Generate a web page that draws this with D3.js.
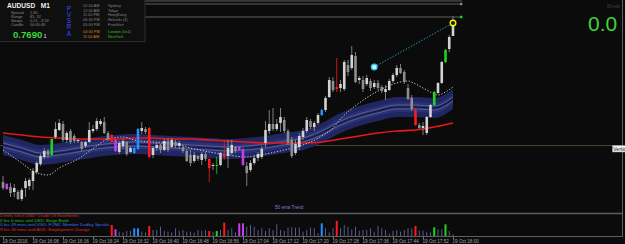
<!DOCTYPE html>
<html>
<head>
<meta charset="utf-8">
<script src="https://cdn.jsdelivr.net/npm/d3@7"></script>
<style>
html, body { margin: 0; padding: 0; background: #0b0b0b; overflow: hidden; }
svg { display: block; }
text { font-family: "Liberation Sans", Arial, sans-serif; }
</style>
</head>
<body>
<div id="chart"></div>
<script>
// AUDUSD M1, 19 Oct 2016, one bar per minute from 16:00
const startTime = new Date(2016, 9, 19, 16, 0);

const open = [0.76739,0.76737,0.76734,0.76729,0.76729,0.76722,0.76733,0.76735,0.76740,0.76749,
  0.76757,0.76764,0.76770,0.76766,0.76784,0.76791,0.76797,0.76781,0.76790,0.76785,
  0.76780,0.76779,0.76775,0.76779,0.76790,0.76792,0.76797,0.76799,0.76788,0.76786,
  0.76781,0.76769,0.76775,0.76779,0.76769,0.76768,0.76772,0.76790,0.76792,0.76793,
  0.76766,0.76773,0.76776,0.76771,0.76780,0.76774,0.76779,0.76775,0.76774,0.76770,
  0.76766,0.76760,0.76765,0.76761,0.76767,0.76762,0.76755,0.76755,0.76756,0.76766,
  0.76765,0.76768,0.76774,0.76774,0.76772,0.76755,0.76751,0.76758,0.76763,0.76764,
  0.76778,0.76790,0.76797,0.76792,0.76798,0.76801,0.76790,0.76781,0.76768,0.76774,
  0.76784,0.76790,0.76800,0.76794,0.76798,0.76806,0.76811,0.76824,0.76840,0.76834,
  0.76833,0.76832,0.76856,0.76853,0.76865,0.76841,0.76841,0.76837,0.76840,0.76834,
  0.76838,0.76834,0.76829,0.76831,0.76840,0.76846,0.76853,0.76849,0.76833,0.76823,
  0.76811,0.76796,0.76793,0.76788,0.76804,0.76816,0.76828,0.76838,0.76859,0.76872,
  0.76885];
const high = [0.76745,0.76738,0.76738,0.76737,0.76731,0.76733,0.76743,0.76743,0.76753,0.76760,
  0.76767,0.76773,0.76772,0.76782,0.76799,0.76802,0.76800,0.76790,0.76792,0.76787,
  0.76782,0.76780,0.76780,0.76799,0.76796,0.76803,0.76802,0.76804,0.76790,0.76787,
  0.76782,0.76780,0.76782,0.76780,0.76775,0.76774,0.76793,0.76799,0.76794,0.76794,
  0.76775,0.76778,0.76777,0.76782,0.76783,0.76783,0.76781,0.76780,0.76775,0.76772,
  0.76771,0.76769,0.76766,0.76769,0.76769,0.76763,0.76758,0.76764,0.76769,0.76781,
  0.76781,0.76781,0.76775,0.76775,0.76773,0.76759,0.76761,0.76766,0.76769,0.76775,
  0.76800,0.76811,0.76813,0.76802,0.76813,0.76804,0.76792,0.76784,0.76781,0.76788,
  0.76793,0.76804,0.76802,0.76800,0.76808,0.76812,0.76825,0.76844,0.76844,0.76863,
  0.76841,0.76861,0.76861,0.76875,0.76869,0.76845,0.76845,0.76846,0.76842,0.76841,
  0.76841,0.76836,0.76836,0.76842,0.76848,0.76856,0.76857,0.76851,0.76837,0.76826,
  0.76813,0.76798,0.76799,0.76805,0.76817,0.76830,0.76839,0.76860,0.76872,0.76886,
  0.76905];
const low = [0.76731,0.76731,0.76724,0.76724,0.76721,0.76720,0.76724,0.76731,0.76731,0.76747,
  0.76755,0.76762,0.76763,0.76765,0.76782,0.76790,0.76779,0.76778,0.76777,0.76778,
  0.76778,0.76770,0.76773,0.76778,0.76788,0.76790,0.76795,0.76787,0.76780,0.76778,
  0.76769,0.76767,0.76772,0.76765,0.76768,0.76767,0.76771,0.76787,0.76787,0.76763,
  0.76763,0.76770,0.76768,0.76770,0.76769,0.76773,0.76773,0.76772,0.76768,0.76759,
  0.76755,0.76758,0.76760,0.76756,0.76760,0.76739,0.76751,0.76747,0.76755,0.76761,
  0.76753,0.76766,0.76768,0.76770,0.76755,0.76735,0.76749,0.76756,0.76760,0.76762,
  0.76774,0.76787,0.76790,0.76790,0.76789,0.76788,0.76776,0.76763,0.76766,0.76771,
  0.76781,0.76788,0.76792,0.76790,0.76796,0.76805,0.76809,0.76823,0.76829,0.76829,
  0.76829,0.76830,0.76845,0.76851,0.76838,0.76837,0.76829,0.76835,0.76830,0.76832,
  0.76831,0.76828,0.76821,0.76830,0.76838,0.76844,0.76847,0.76837,0.76821,0.76810,
  0.76795,0.76792,0.76786,0.76786,0.76803,0.76815,0.76827,0.76837,0.76858,0.76869,
  0.76885];
const close = [0.76733,0.76732,0.76728,0.76733,0.76722,0.76731,0.76740,0.76741,0.76750,0.76758,
  0.76765,0.76770,0.76766,0.76782,0.76792,0.76798,0.76781,0.76788,0.76779,0.76780,
  0.76781,0.76772,0.76779,0.76791,0.76792,0.76800,0.76800,0.76788,0.76782,0.76779,
  0.76770,0.76778,0.76780,0.76767,0.76773,0.76773,0.76792,0.76793,0.76789,0.76764,
  0.76773,0.76776,0.76771,0.76780,0.76771,0.76781,0.76775,0.76778,0.76770,0.76760,
  0.76758,0.76766,0.76762,0.76767,0.76762,0.76753,0.76756,0.76756,0.76768,0.76764,
  0.76773,0.76776,0.76770,0.76771,0.76756,0.76748,0.76758,0.76763,0.76767,0.76772,
  0.76791,0.76797,0.76792,0.76797,0.76804,0.76790,0.76778,0.76765,0.76777,0.76785,
  0.76790,0.76801,0.76794,0.76798,0.76806,0.76811,0.76823,0.76841,0.76831,0.76832,
  0.76837,0.76859,0.76849,0.76866,0.76839,0.76843,0.76832,0.76843,0.76833,0.76838,
  0.76833,0.76830,0.76832,0.76840,0.76846,0.76853,0.76848,0.76839,0.76822,0.76812,
  0.76796,0.76793,0.76795,0.76804,0.76816,0.76829,0.76838,0.76859,0.76871,0.76884,
  0.76901];

// PVSRA coloured bars: R climax bear, G climax bull, B rising bull, M rising bear
const pvsraBars = [[1,'M'],[13,'G'],[29,'R'],[30,'M'],[35,'B'],[36,'B'],[39,'R'],[55,'R'],
  [57,'G'],[59,'R'],[63,'M'],[64,'M'],[85,'B'],[89,'R'],[110,'R'],[115,'G'],[118,'G']];

// tick volume, sub window only shows bars from index 29
const volStart = 29;
const volume = [66,40,26,22,30,32,46,46,26,22,60,36,36,56,30,26,22,46,30,36,26,26,20,36,
  32,36,30,26,30,36,80,36,46,22,76,76,56,66,56,36,46,30,46,36,70,36,30,50,52,50,52,26,
  36,50,46,16,76,46,22,46,90,46,66,56,40,56,32,36,36,46,26,60,46,36,16,32,36,26,36,46,
  46,60,32,32,26,22,52,40,40,70,30,10];

// 50 ema band centre and slow ma, sampled every 5 bars
const maBars = [0,5,10,15,20,25,30,35,40,45,50,55,60,65,70,75,80,85,90,95,100,105,110,115,120];
const ema50 = [0.76776,0.76771,0.76766,0.76768,0.76771,0.76774,0.76776,0.76777,0.76776,0.76775,
  0.76774,0.76773,0.76772,0.76773,0.76775,0.76778,0.76781,0.76788,0.76798,0.76805,
  0.76810,0.76814,0.76814,0.76813,0.76822];
const slowMa = [0.76788,0.76786,0.76784,0.76783,0.76782,0.76782,0.76782,0.76783,0.76783,0.76782,
  0.76782,0.76781,0.76780,0.76779,0.76778,0.76778,0.76778,0.76779,0.76782,0.76785,
  0.76788,0.76790,0.76791,0.76794,0.76798];
const bandOuter = 0.00010, bandInner = 0.00005;

// fast ma (dotted)
const fastBars = [0,5,8,12,15,20,25,28,32,35,40,45,50,55,60,65,70,75,80,85,88,90,95,100,105,108,110,113,116,118,120];
const fastMa = [0.76771,0.76758,0.76750,0.76746,0.76753,0.76762,0.76775,0.76782,0.76784,0.76781,
  0.76779,0.76778,0.76773,0.76769,0.76766,0.76764,0.76767,0.76771,0.76776,0.76785,
  0.76793,0.76802,0.76818,0.76830,0.76838,0.76840,0.76837,0.76831,0.76826,0.76829,0.76834];

// chart objects
const topLevels = [0.76920, 0.76917, 0.76904];
const vLinePrice = 0.76776;
const trendTimes = ['17:39', '18:00'];
const trendPrices = [0.76854, 0.76898];

const tickTimes = ['16:00','16:08','16:16','16:24','16:32','16:40','16:48','16:56','17:04',
  '17:12','17:20','17:28','17:36','17:44','17:52','18:00'];
const tickLabels = ['19 Oct 2016','19 Oct 16:08','19 Oct 16:16','19 Oct 16:24','19 Oct 16:32',
  '19 Oct 16:40','19 Oct 16:48','19 Oct 16:56','19 Oct 17:04','19 Oct 17:12','19 Oct 17:20',
  '19 Oct 17:28','19 Oct 17:36','19 Oct 17:44','19 Oct 17:52','19 Oct 18:00'];

const newsLines = ['0 mins since USD: Crude Oil Inventories','0 hrs 0 mins until USD: Beige Book',
  '0 hrs 49 mins until USD: FOMC Member Dudley Speaks','9 hrs 30 mins until AUD: Employment Change'];
const newsColors = ['#e52222','#22c322','#3a6cff','#e52222'];

const infoRows = [['Spread','1.80'],['Range','85. 32'],['Swaps','0.21, -3.59'],['Candle','00:00:48']];
const sessionTimes = ['02:00 AM','12:00 AM','11:00 PM','06:00 PM','05:00 PM','04:00 PM','11:00 AM'];
const sessionCities = ['Sydney','Tokyo','HongKong','Helsinki (3)','Frankfurt','London (0x1)','NewYork'];

const W = 625, H = 244;
const mainBottom = 213, subTop = 214, subBottom = 236, rightEdge = 622.5;

const parseHM = s => { const [h, m] = s.split(':'); return new Date(2016, 9, 19, +h, +m); };
const barTime = i => d3.timeMinute.offset(startTime, i);
const bars = open.map((o, i) => ({i, t: barTime(i), o, h: high[i], l: low[i], c: close[i]}));
const pvsra = new Map(pvsraBars);

const svg = d3.select('#chart').append('svg')
    .attr('width', W)
    .attr('height', H);
svg.append('rect').attr('width', W).attr('height', H).attr('fill', '#0b0b0b');

svg.append('clipPath').attr('id', 'mainClip')
  .append('rect').attr('width', rightEdge).attr('height', mainBottom);

//scales
const xScale = d3.scaleTime()
    .domain([startTime, barTime(open.length - 1)])
    .range([3, 453]);
const yScale = d3.scaleLinear()
    .domain([0.76708, 0.76921])
    .range([mainBottom, 0]);
const vScale = d3.scaleLinear()
    .domain([0, 132])
    .range([subBottom, subTop]);

const typeColor = {R: '#ff1a1a', G: '#1fd31f', B: '#1e90ff', M: '#c43cf2'};

const main = svg.append('g').attr('clip-path', 'url(#mainClip)');

//horizontal object line
main.append('line')
    .attr('x1', 0).attr('x2', rightEdge)
    .attr('y1', Math.round(yScale(vLinePrice)) + 0.5).attr('y2', Math.round(yScale(vLinePrice)) + 0.5)
    .attr('stroke', '#4d4333');

//ema band
const maPts = maBars.map((b, k) => ({t: barTime(b), v: ema50[k], s: slowMa[k]}));
const bandArea = off => d3.area()
    .x(d => xScale(d.t))
    .y0(d => yScale(d.v - off))
    .y1(d => yScale(d.v + off))
    .curve(d3.curveMonotoneX);
main.append('path').datum(maPts).attr('d', bandArea(bandOuter)).attr('fill', '#20265f');
main.append('path').datum(maPts).attr('d', bandArea(bandInner)).attr('fill', '#293075');
const bandLine = off => d3.line()
    .x(d => xScale(d.t))
    .y(d => yScale(d.v + off))
    .curve(d3.curveMonotoneX);
[0.00002, -0.00002].forEach(off => {
  main.append('path').datum(maPts).attr('d', bandLine(off))
      .attr('fill', 'none').attr('stroke', '#6f7192').attr('stroke-width', 0.7);
});
main.append('path').datum(maPts).attr('d', bandLine(0))
    .attr('fill', 'none').attr('stroke', '#14173a').attr('stroke-width', 1.2);

//slow ma
main.append('path').datum(maPts)
    .attr('d', d3.line().x(d => xScale(d.t)).y(d => yScale(d.s)).curve(d3.curveMonotoneX))
    .attr('fill', 'none').attr('stroke', '#ec1616').attr('stroke-width', 1.6);

//fast ma dotted
const fastPts = fastBars.map((b, k) => ({t: barTime(b), v: fastMa[k]}));
main.append('path').datum(fastPts)
    .attr('d', d3.line().x(d => xScale(d.t)).y(d => yScale(d.v)).curve(d3.curveMonotoneX))
    .attr('fill', 'none').attr('stroke', '#d8d8d8').attr('stroke-width', 0.9)
    .attr('stroke-dasharray', '1.3,1.7');

//candles
const candleColor = d => pvsra.has(d.i) ? typeColor[pvsra.get(d.i)] : (d.c >= d.o ? '#d2d2d2' : '#8e8e8e');
const wickColor = d => pvsra.has(d.i) ? typeColor[pvsra.get(d.i)] : '#9a9a9a';
const candles = main.append('g').selectAll('g').data(bars).join('g');
candles.append('line')
    .attr('x1', d => xScale(d.t)).attr('x2', d => xScale(d.t))
    .attr('y1', d => yScale(d.h)).attr('y2', d => yScale(d.l))
    .attr('stroke', wickColor).attr('stroke-width', 0.8);
candles.append('rect')
    .attr('x', d => xScale(d.t) - 1.3)
    .attr('width', 2.6)
    .attr('y', d => yScale(Math.max(d.o, d.c)))
    .attr('height', d => Math.max(1, Math.abs(yScale(d.o) - yScale(d.c))))
    .attr('fill', candleColor);

//top levels
const lvlEnd = xScale(barTime(open.length - 1)) + 9;
topLevels.forEach(p => {
  svg.append('line')
      .attr('x1', 0).attr('x2', lvlEnd)
      .attr('y1', yScale(p)).attr('y2', yScale(p))
      .attr('stroke', '#6a6a6a').attr('stroke-width', 0.9);
});
svg.append('rect').attr('x', lvlEnd - 2).attr('y', yScale(topLevels[1]) - 1.2)
    .attr('width', 2.4).attr('height', 2.4).attr('fill', '#8a8a8a');
svg.append('rect').attr('x', lvlEnd - 2).attr('y', yScale(topLevels[2]) - 1.2)
    .attr('width', 2.4).attr('height', 2.4).attr('fill', '#1fd31f');

//trend line object
const tp = trendTimes.map((s, k) => [xScale(parseHM(s)), yScale(trendPrices[k])]);
svg.append('line')
    .attr('x1', tp[0][0]).attr('y1', tp[0][1]).attr('x2', tp[1][0]).attr('y2', tp[1][1])
    .attr('stroke', '#2a9ec6').attr('stroke-width', 0.9).attr('stroke-dasharray', '1.5,1.5');
svg.append('circle').attr('cx', tp[0][0]).attr('cy', tp[0][1]).attr('r', 2.8)
    .attr('fill', '#d8f6ff').attr('stroke', '#38c4e8').attr('stroke-width', 1.4);
svg.append('circle').attr('cx', tp[1][0]).attr('cy', tp[1][1]).attr('r', 2.8)
    .attr('fill', '#1a1a1a').attr('stroke', '#f4f400').attr('stroke-width', 1.4);

//frame
const frame = svg.append('g').attr('stroke', '#5e5e5e');
frame.append('line').attr('x1', 0).attr('x2', rightEdge).attr('y1', mainBottom + 0.5).attr('y2', mainBottom + 0.5).attr('stroke-width', 1.3);
frame.append('line').attr('x1', 0).attr('x2', rightEdge).attr('y1', subBottom + 0.5).attr('y2', subBottom + 0.5);
frame.append('line').attr('x1', rightEdge).attr('x2', rightEdge).attr('y1', 0).attr('y2', subBottom + 1);

//object label at right edge
svg.append('rect').attr('x', 612.5).attr('y', yScale(vLinePrice) + 0.5)
    .attr('width', 13).attr('height', 6.5).attr('fill', '#f2f2f2').attr('stroke', '#9a9a9a').attr('stroke-width', 0.5);
svg.append('text').attr('x', 613.3).attr('y', yScale(vLinePrice) + 5.6)
    .attr('font-size', 5).attr('fill', '#222').text('Vertic');

svg.append('text').attr('x', 275).attr('y', 208.8)
    .attr('font-size', 4.6).attr('fill', '#7f80d2').text('50 ema Trend');

//volume sub window
const volData = volume.map((v, k) => ({i: volStart + k, t: barTime(volStart + k), v}));
svg.append('g').selectAll('rect').data(volData).join('rect')
    .attr('x', d => xScale(d.t) - (pvsra.has(d.i) ? 1 : 0.5))
    .attr('width', d => pvsra.has(d.i) ? 2 : 1)
    .attr('y', d => vScale(d.v))
    .attr('height', d => vScale(0) - vScale(d.v))
    .attr('fill', d => pvsra.has(d.i) ? typeColor[pvsra.get(d.i)] : '#5a5a8c');

//news countdown
svg.append('g').selectAll('text').data(newsLines).join('text')
    .attr('x', 0).attr('y', (d, i) => 217.4 + i * 4.5)
    .attr('font-size', 4.4).attr('fill', (d, i) => newsColors[i]).text(d => d);

//xAxis code
const xAxis = svg.append('g')
    .attr('transform', 'translate(0,' + (subBottom + 1) + ')')
    .call(d3.axisBottom(xScale)
      .tickValues(tickTimes.map(parseHM))
      .tickFormat((d, i) => tickLabels[i])
      .tickSize(2));
xAxis.select('.domain').remove();
xAxis.selectAll('line').attr('stroke', '#777');
xAxis.selectAll('text')
    .attr('text-anchor', 'start').attr('x', -1).attr('y', 2.2).attr('dy', '0.75em')
    .attr('font-size', 4.6).attr('font-family', '"Liberation Sans", Arial, sans-serif')
    .attr('fill', '#a2a2a2');

//info panel
const panel = svg.append('g');
panel.append('rect').attr('x', -1).attr('y', -1).attr('width', 146).attr('height', 42.5)
    .attr('fill', '#0f0f0f').attr('stroke', '#2e2e2e');
panel.append('text').attr('x', 7).attr('y', 8.3).attr('font-size', 6.6).attr('font-weight', 'bold')
    .attr('fill', '#ececec').attr('xml:space', 'preserve').text('AUDUSD   M1');
infoRows.forEach((r, k) => {
  panel.append('text').attr('x', 11).attr('y', 14.2 + k * 4).attr('font-size', 3.9).attr('fill', '#8a8a8a').text(r[0]);
  panel.append('text').attr('x', 30).attr('y', 14.2 + k * 4).attr('font-size', 3.9).attr('fill', '#8a8a8a').text(r[1]);
});
panel.append('text').attr('x', 13).attr('y', 38.3).attr('font-size', 9.6).attr('font-weight', 'bold')
    .attr('fill', '#3dd43d').text(d3.format('.4f')(Math.floor(close[close.length - 1] * 1e4) / 1e4));
panel.append('text').attr('x', 43.5).attr('y', 38).attr('font-size', 5.5)
    .attr('fill', '#e0e0e0').text('1');
'PVSRA'.split('').forEach((ch, k) => {
  panel.append('text').attr('x', 69).attr('y', 10.5 + k * 6.3).attr('text-anchor', 'middle')
      .attr('font-size', 6.6).attr('fill', '#3150ff').text(ch);
});
const rowY = [6.8, 11.5, 16.2, 21, 25.8, 32.8, 37.8];
sessionTimes.forEach((s, k) => {
  const hi = k >= 5;
  panel.append('text').attr('x', 83).attr('y', rowY[k]).attr('font-size', 3.9)
      .attr('fill', hi ? '#c98a1e' : '#858585').text(s);
  panel.append('text').attr('x', 108).attr('y', rowY[k]).attr('font-size', 3.9)
      .attr('fill', hi ? '#2fbf2f' : '#858585').text(sessionCities[k]);
});

//spread readout and corner label
svg.append('text').attr('x', 588).attr('y', 31)
    .attr('font-size', 21).attr('font-family', '"Liberation Sans Narrow", "Liberation Sans", sans-serif')
    .attr('fill', '#3ad63a').text('0.0');
svg.append('text').attr('x', 607).attr('y', 7.8).attr('font-size', 5)
    .attr('fill', '#3a3a3a').text('Break');
</script>
</body>
</html>
